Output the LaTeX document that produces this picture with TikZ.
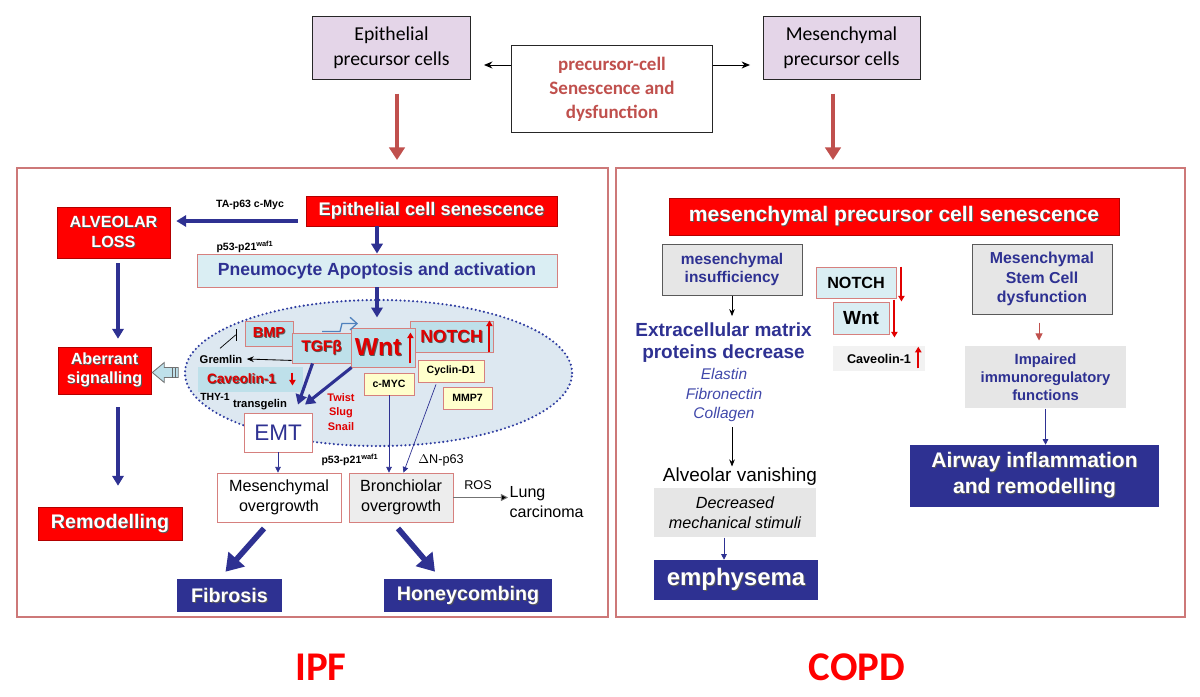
\documentclass[tikz,border=0pt]{standalone}
\usepackage{fontspec}
\setmainfont{Liberation Sans}
\newfontfamily\calib{Carlito}
\usetikzlibrary{arrows.meta,shapes.geometric,calc}

\definecolor{toplav}{RGB}{228,213,232}
\definecolor{brick}{RGB}{192,80,77}
\definecolor{panelred}{RGB}{205,120,120}
\definecolor{boxred}{RGB}{214,128,126}
\definecolor{navy}{RGB}{46,49,146}
\definecolor{listblue}{RGB}{64,72,170}
\definecolor{paleblue}{RGB}{218,238,243}
\definecolor{tealbox}{RGB}{190,224,234}
\definecolor{cellfill}{RGB}{221,232,241}
\definecolor{dotblue}{RGB}{46,60,160}
\definecolor{paleyel}{RGB}{255,255,204}
\definecolor{lgray}{RGB}{230,230,230}
\definecolor{vlgray}{RGB}{242,242,242}
\definecolor{flower}{RGB}{79,129,189}
\definecolor{hotred}{RGB}{225,0,0}

\newcommand{\fsz}[2]{\fontsize{#1}{#2}\selectfont}
% dark shadow under a line of text
\newcommand{\shd}[1]{\leavevmode\rlap{\kern0.7pt\raisebox{-0.7pt}{\textcolor{black!65}{#1}}}#1}

\tikzset{
  % boxes
  topbox/.style={draw=black!85, line width=0.7pt, fill=toplav, inner sep=0pt, align=center,
    minimum width=3.925cm, minimum height=1.55cm, font=\calib\fsz{14}{17.8}},
  senbox/.style={draw=black!85, line width=0.7pt, fill=white, inner sep=0pt, align=center,
    minimum width=5cm, minimum height=2.15cm, text=brick, font=\calib\bfseries\fsz{13.5}{17}},
  panel/.style={draw=panelred, line width=1pt, inner sep=0pt},
  redbox/.style={draw=red!70!black, line width=0.4pt, fill=red, text=white, inner sep=0pt, align=center},
  navybox/.style={fill=navy, text=white, inner sep=0pt, align=center},
  pinkbox/.style={draw=boxred, line width=0.6pt, inner sep=0pt, align=center},
  genebox/.style={pinkbox, fill=tealbox, text=hotred},
  yelbox/.style={pinkbox, fill=paleyel, font=\bfseries\fsz{7.5}{9}},
  graybox/.style={draw=black!65, line width=0.7pt, fill=lgray, text=navy, inner sep=0pt, align=center},
  lbl/.style={inner sep=1pt, align=center},
  % arrows
  toparr/.style={draw=black, line width=0.7pt, -{Stealth[length=6pt,width=5pt]}},
  brickarr/.style={draw=brick, line width=3.2pt, -{Triangle[length=9pt,width=11pt]}},
  midarr/.style={draw=navy, line width=2.2pt, -{Triangle[length=7pt,width=8pt]}},
  fatarr/.style={draw=navy, line width=4pt, -{Triangle[length=12pt,width=15pt]}},
  thinarr/.style={draw=navy, line width=0.5pt, -{Triangle[length=4pt,width=4pt]}},
  blackarr/.style={draw=black, line width=0.6pt, -{Stealth[length=5pt,width=4pt]}},
  redup/.style={draw=hotred, line width=1.4pt, -{Triangle[length=4pt,width=4.5pt]}},
}

\begin{document}
\begin{tikzpicture}[x=0.025cm,y=-0.025cm]
\useasboundingbox (0,0) rectangle (1200,696);
% precursor cells on top
\node[topbox] (epi) at (391.5,48) {Epithelial\\precursor cells};
\node[topbox] (mes) at (841.5,48) {Mesenchymal\\precursor cells};
\node[senbox] (psen) at (612,89) {precursor-cell\\Senescence and\\dysfunction};
\coordinate (topL) at (484,65);
\coordinate (topR) at (750,65);
\draw[toparr] (psen.west |- topL) -- (topL);
\draw[toparr] (psen.east |- topR) -- (topR);
\coordinate (ipfIn) at (397,160);
\coordinate (copdIn) at (833,160);
\draw[brickarr] (ipfIn |- epi.south) ++(0,14) -- (ipfIn);
\draw[brickarr] (copdIn |- mes.south) ++(0,14) -- (copdIn);
% the two panels
\node[panel, minimum width=14.775cm, minimum height=11.225cm] (ipf) at (312.5,392.5) {};
\node[panel, minimum width=14.225cm, minimum height=11.225cm] (copd) at (900.5,392.5) {};
\node[text=red, font=\calib\bfseries\fsz{29}{32}] (ipfname) at (321,667) {IPF};
\node[text=red, font=\calib\bfseries\fsz{29}{32}] (copdname) at (857,667) {COPD};

% IPF: senescence and loss
\node[redbox, minimum width=6.275cm, minimum height=0.75cm, font=\bfseries\fsz{13}{15}] (episen) at (431.5,211) {\shd{Epithelial cell senescence}};
\node[redbox, minimum width=2.825cm, minimum height=1.275cm, font=\bfseries\fsz{11.5}{14}] (alv) at (113.5,232.5) {\shd{ALVEOLAR}\\\shd{LOSS}};
\node[pinkbox, fill=paleblue, text=navy, minimum width=9cm, minimum height=0.825cm, font=\bfseries\fsz{12.5}{15}] (pneu) at (377,270.5) {Pneumocyte Apoptosis and activation};
\node[lbl, font=\bfseries\fsz{7.5}{9}] (tap) at (250,205) {TA-p63 c-Myc};
\node[lbl, font=\bfseries\fsz{7.5}{9}] (p53a) at (245,247) {p53-p21\textsuperscript{waf1}};
\draw[midarr] ($(episen.west)+(-8,10)$) -- ($(alv.east)+(6,-11.5)$);
\coordinate (mainx) at (377,0);
\draw[midarr] (episen.south -| mainx) -- (pneu.north -| mainx);

% the cell with its signals
\node[ellipse, fill=cellfill, draw=dotblue, line width=1.7pt, dash pattern=on 0pt off 3pt, line cap=round,
  minimum width=9.675cm, minimum height=3.65cm, inner sep=0pt] (cell) at (378.5,373) {};
\draw[midarr] (pneu.south) -- ($(pneu.south)+(0,30)$) coordinate (wntIn);
\node[genebox, fill=tealbox, minimum width=2.625cm, minimum height=0.625cm, draw=none, font=\bfseries\fsz{9.7}{11}] (cav) at (250.5,379.5) {\shd{Caveolin-1}\hspace{0.45cm}};
\node[genebox, minimum width=1.2cm, minimum height=0.625cm, font=\bfseries\fsz{10.3}{12}] (bmp) at (269,333.5) {\shd{BMP}};
\node[genebox, minimum width=2.075cm, minimum height=0.775cm, font=\bfseries\fsz{12.5}{14}] (notch) at (451.5,336.5) {\shd{NOTCH}};
\node[genebox, minimum width=1.475cm, minimum height=0.75cm, font=\bfseries\fsz{11}{13}] (tgf) at (321.5,348) {\shd{TGFβ}};
\node[genebox, minimum width=1.6cm, minimum height=0.975cm, font=\bfseries\fsz{17.5}{19}] (wnt) at (383,347.5) {\shd{Wnt}\hspace{0.25cm}};
\draw[redup] ($(wnt.south east)+(-5,-4)$) -- ($(wnt.north east)+(-5,5)$);
\draw[redup] ($(notch.south east)+(-4,0)$) -- ($(notch.north east)+(-4,0)$);
\draw[redup] ($(cav.east)+(-11,-7)$) -- ($(cav.east)+(-11,6)$);
\draw[flower, line width=0.9pt, -{Straight Barb[length=5pt,width=9pt]}]
  ($(tgf.north)+(0.5,-1)$) -- ++(18,0) -- ++(2,-8) -- ++(16,0);
\node[lbl, font=\bfseries\fsz{8}{9}, inner sep=3pt] (gremlin) at (221,359) {Gremlin};
\draw[blackarr] ($(tgf.south west)+(0,-3)$) -- (gremlin.east);
\draw[black, line width=0.5pt, -{Bar[width=8pt]}] ($(gremlin.north)+(-1,-2)$) -- ($(bmp.west)+(-9,1.5)$) -- ++(1,0);
\node[lbl, font=\bfseries\fsz{7.4}{9}] (thy) at (215,397) {THY-1};
\node[lbl, font=\bfseries\fsz{8}{9}] (tgl) at (260,405) {transgelin};
\node[yelbox, minimum width=1.25cm, minimum height=0.55cm] (myc) at (389,384) {c-MYC};
\node[yelbox, minimum width=1.65cm, minimum height=0.55cm] (cyc) at (451,371) {Cyclin-D1};
\node[yelbox, minimum width=1.225cm, minimum height=0.55cm] (mmp) at (467.5,398) {MMP7};
\node[lbl, text=hotred, font=\bfseries\fsz{7.8}{10.3}] (twist) at (341,412) {Twist\\Slug\\Snail};
\node[pinkbox, fill=white, text=navy, minimum width=1.7cm, minimum height=0.975cm, font=\fsz{16}{18}] (emt) at (278,432.5) {EMT};
\draw[midarr] ($(tgf.south)+(-9,0)$) -- ($(emt.north)+(20,-8)$);
\draw[midarr] ($(wnt.south west)+(1,0)$) -- ($(emt.north)+(27,-8)$);

% hollow arrow out of the cell
\node[redbox, minimum width=2.325cm, minimum height=1.175cm, font=\bfseries\fsz{11.5}{13.7}] (abr) at (104.5,370.5) {\shd{Aberrant}\\\shd{signalling}};
\begin{scope}[shift={(abr.east)}]
\draw[fill=tealbox, draw=black!55, line width=0.6pt] (1,2) -- (13,-8) -- (13,-3) -- (27,-3) -- (27,7) -- (13,7) -- (13,12) -- cycle;
\draw[black!60, line width=0.8pt] (21,-3) -- (21,7) (24,-3) -- (24,7);
\end{scope}
\node[redbox, minimum width=3.6cm, minimum height=0.825cm, font=\bfseries\fsz{14}{16}] (remod) at (110,523.5) {\shd{Remodelling}};
\coordinate (chainx) at (118,0);
\draw[midarr] ($(alv.south -| chainx)+(0,5)$) -- ($(abr.north -| chainx)+(0,-8)$);
\draw[midarr] ($(abr.south -| chainx)+(0,13)$) -- ($(remod.north -| chainx)+(0,-21)$);

% overgrowth and outcome
\node[pinkbox, fill=white, minimum width=3.1cm, minimum height=1.225cm, font=\fsz{11.5}{14.2}] (mesov) at (279,497.5) {Mesenchymal\\overgrowth};
\node[pinkbox, fill=black!7, minimum width=2.6cm, minimum height=1.225cm, font=\fsz{11.5}{14.2}] (bronch) at (401,497.5) {Bronchiolar\\overgrowth};
\node[lbl, anchor=west, align=left, font=\fsz{11.4}{14.2}] (lung) at (508,502) {Lung\\carcinoma};
\node[lbl, font=\fsz{9}{10}] (ros) at (478,485) {ROS};
\node[lbl, font=\bfseries\fsz{7.5}{9}] (p53b) at (350,460) {p53-p21\textsuperscript{waf1}};
\node[lbl, font=\fsz{9}{10}] (dnp) at (441,460) {$\Delta$N-p63};
\draw[thinarr] (emt.south) -- (emt.south |- mesov.north);
\draw[thinarr] (myc.south) -- (myc.south |- bronch.north);
\draw[thinarr] ($(cyc.south)+(-15,2)$) -- ($(bronch.north)+(2.5,0)$);
\draw[draw=black!55, line width=0.6pt, -{Triangle[length=5pt,width=5pt,fill=black]}] (bronch.east) -- (bronch.east -| lung.west);
\node[navybox, minimum width=2.625cm, minimum height=0.825cm, font=\bfseries\fsz{14}{16}] (fib) at (229.5,595.5) {\shd{Fibrosis}};
\node[navybox, minimum width=4.2cm, minimum height=0.825cm, font=\bfseries\fsz{14}{16}] (honey) at (468,595.5) {\shd{Honeycombing}};
\draw[fatarr] ($(mesov.south)+(-15,6)$) -- ($(fib.north)+(-4,-7)$);
\draw[fatarr] ($(bronch.south)+(-3,6)$) -- ($(honey.north)+(-33,-7)$);

% COPD: mesenchymal side
\node[redbox, minimum width=11.25cm, minimum height=0.925cm, font=\bfseries\fsz{15}{17}] (msen) at (894,216.5) {\shd{mesenchymal precursor cell senescence}};
\node[graybox, minimum width=3.5cm, minimum height=1.275cm, font=\bfseries\fsz{11}{13.5}] (minsuf) at (732,269.5) {mesenchymal\\insufficiency};
\node[pinkbox, fill=paleblue, minimum width=2cm, minimum height=0.775cm, font=\bfseries\fsz{11.5}{13}] (rnotch) at (856,282.5) {NOTCH};
\node[pinkbox, fill=paleblue, minimum width=1.4cm, minimum height=0.8cm, font=\bfseries\fsz{13.5}{15}] (rwnt) at (861,318) {Wnt};
\node[fill=vlgray, inner sep=0pt, minimum width=2.3cm, minimum height=0.625cm, font=\bfseries\fsz{9}{10}] (rcav) at (879,358.5) {Caveolin-1\hspace{0.175cm}};
\draw[redup] ($(rnotch.north east)+(5,0)$) -- ($(rnotch.south east)+(5,3)$);
\draw[redup] ($(rwnt.north east)+(5,-2)$) -- ($(rwnt.south east)+(5,3)$);
\draw[redup] ($(rcav.south east)+(-7,-3)$) -- ($(rcav.north east)+(-7,1)$);
\node[graybox, minimum width=3.5cm, minimum height=1.75cm, font=\bfseries\fsz{11.3}{13.9}] (msc) at (1042,279) {Mesenchymal\\Stem Cell\\dysfunction};
\node[graybox, draw=none, minimum width=4.025cm, minimum height=1.55cm, font=\bfseries\fsz{10.5}{12.8}] (imp) at (1045.5,377) {Impaired\\immunoregulatory\\functions};
\node[navybox, minimum width=6.225cm, minimum height=1.55cm, font=\bfseries\fsz{15}{18.5}] (airway) at (1034.5,476) {\shd{Airway inflammation}\\\shd{and remodelling}};
\draw[draw=brick, line width=0.6pt, -{Triangle[length=5pt,width=5pt]}] ($(msc.south)+(-3,8)$) -- ($(imp.north)+(-6.5,-5)$);
\draw[thinarr] (imp.south) -- (imp.south |- airway.north);
\node[lbl, inner sep=0.15cm, text=navy, font=\bfseries\fsz{13.5}{16}] (ecm) at (723.5,342.5) {Extracellular matrix\\proteins decrease};
\node[lbl, inner sep=0.12cm, text=listblue, font=\itshape\fsz{11}{13.9}] (elist) at (724,395) {Elastin\\Fibronectin\\Collagen};
\node[lbl, font=\fsz{13.5}{15}] (alvvan) at (740,477) {Alveolar vanishing};
\node[graybox, draw=none, text=black, minimum width=4.05cm, minimum height=1.225cm, font=\itshape\fsz{11.5}{14.2}] (decr) at (735,512.5) {Decreased\\mechanical stimuli};
\node[navybox, minimum width=4.1cm, minimum height=1cm, font=\bfseries\fsz{17}{19}] (emph) at (736,580) {\shd{emphysema}};
\draw[blackarr] (minsuf.south) -- (minsuf.south |- ecm.north);
\draw[blackarr] (elist.south -| minsuf.south) -- (alvvan.north -| minsuf.south);
\draw[thinarr] ($(decr.south)+(-11,0)$) -- ($(emph.north)+(-12,0)$);
\end{tikzpicture}
\end{document}
